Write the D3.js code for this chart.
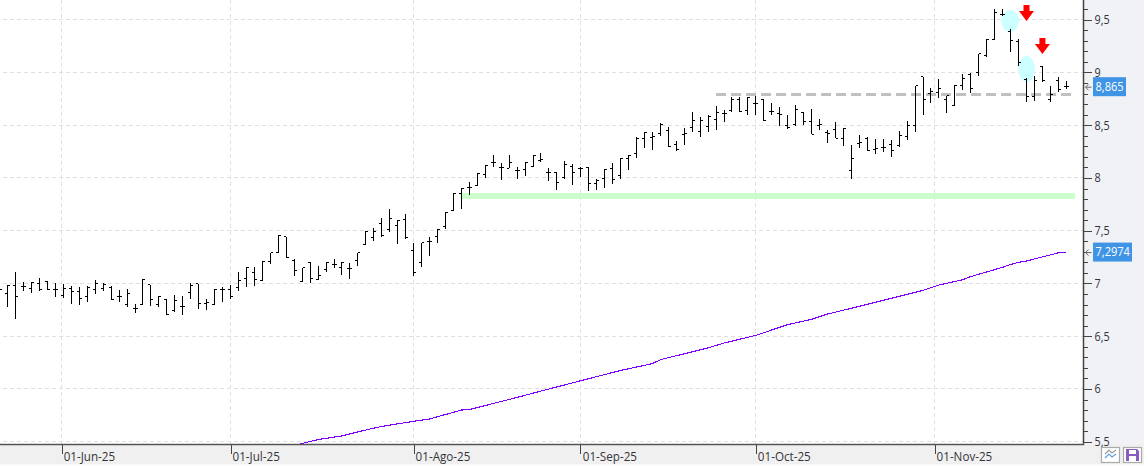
<!DOCTYPE html>
<html>
<head>
<meta charset="utf-8">
<script src="https://cdn.jsdelivr.net/npm/d3@7/dist/d3.min.js"></script>
<style>
html,body{margin:0;padding:0;background:#fff;overflow:hidden}
svg{display:block}
text{font-family:"Open Sans",sans-serif;font-size:12px}
</style>
</head>
<body>
<svg id="chart" width="1144" height="466"></svg>
<script>
// Daily open / high / low / close, one entry per session
const opens = [
6.94,6.903,6.985,6.97,6.954,7.001,7.023,6.944,6.89,6.954,
6.925,6.878,6.938,6.954,6.963,6.875,6.805,6.767,6.802,6.988,
6.799,6.849,6.739,6.786,6.916,6.995,6.808,6.802,6.944,6.944,
6.963,7.048,7.105,7.03,7.21,7.295,7.443,7.222,7.02,7.197,
7.039,7.131,7.181,7.147,7.143,7.213,7.368,7.44,7.57,7.513,
7.545,7.605,7.317,7.203,7.399,7.443,7.538,7.693,7.857,7.911,
7.933,8.028,8.151,8.097,8.094,8.072,8.082,8.107,8.17,8.05,
8.047,8.009,8.113,8.091,8.1,7.943,7.993,8.088,8.019,8.189,
8.23,8.375,8.385,8.423,8.454,8.319,8.416,8.476,8.445,8.492,
8.556,8.612,8.644,8.745,8.644,8.707,8.745,8.628,8.609,8.496,
8.502,8.619,8.537,8.499,8.432,8.461,8.375,8.072,8.331,8.372,
8.265,8.293,8.315,8.306,8.391,8.499,8.957,8.802,8.808,8.745,
8.691,8.881,8.985,9.004,9.156,9.314,9.551,9.387,9.289,8.935,
8.77,9.061,8.739,8.928,8.871];
const highs = [
6.97,6.985,7.108,7.011,7.017,7.048,7.023,7.007,6.992,6.976,
6.97,6.973,7.033,7.001,6.976,6.938,6.947,6.802,7.039,6.988,
6.881,6.849,6.887,6.881,7.001,6.995,6.853,6.944,6.963,6.982,
7.105,7.153,7.156,7.21,7.292,7.459,7.443,7.235,7.15,7.207,
7.166,7.2,7.229,7.2,7.191,7.292,7.494,7.522,7.62,7.703,
7.6,7.655,7.38,7.387,7.443,7.516,7.677,7.857,7.902,7.962,
8.044,8.123,8.218,8.139,8.218,8.107,8.148,8.214,8.233,8.097,
8.053,8.157,8.132,8.101,8.107,7.987,8.085,8.138,8.189,8.217,
8.385,8.432,8.432,8.518,8.48,8.35,8.47,8.622,8.574,8.597,
8.682,8.644,8.764,8.764,8.764,8.78,8.748,8.714,8.669,8.593,
8.691,8.628,8.65,8.562,8.454,8.527,8.473,8.312,8.404,8.391,
8.369,8.369,8.36,8.445,8.54,8.872,8.957,8.849,8.938,8.777,
8.881,8.985,8.998,9.175,9.314,9.598,9.598,9.409,9.314,8.944,
8.966,9.061,8.872,8.954,8.919];
const lows = [
6.9,6.78,6.666,6.932,6.913,6.932,6.938,6.875,6.859,6.805,
6.799,6.827,6.903,6.932,6.846,6.824,6.78,6.723,6.799,6.79,
6.774,6.704,6.733,6.704,6.853,6.761,6.752,6.793,6.827,6.849,
6.932,6.97,6.979,7.026,7.187,7.292,7.241,7.07,7.017,7.0,
7.033,7.112,7.143,7.083,7.046,7.169,7.361,7.405,7.443,7.491,
7.377,7.418,7.074,7.159,7.263,7.387,7.519,7.684,7.709,7.842,
7.927,8.003,8.107,7.981,8.091,7.993,8.022,8.101,8.148,7.974,
7.886,7.993,7.936,8.006,7.876,7.886,7.902,7.943,7.99,8.075,
8.189,8.281,8.265,8.398,8.296,8.258,8.315,8.432,8.391,8.439,
8.454,8.533,8.622,8.628,8.6,8.6,8.543,8.6,8.496,8.467,
8.496,8.499,8.413,8.454,8.328,8.375,8.306,7.993,8.281,8.259,
8.227,8.249,8.202,8.297,8.36,8.439,8.597,8.714,8.761,8.619,
8.685,8.834,8.802,8.97,9.15,9.308,9.535,9.197,9.064,8.723,
8.732,8.913,8.723,8.811,8.84];
const closes = [
6.944,6.985,6.881,6.97,7.011,6.944,6.944,6.944,6.951,6.919,
6.859,6.966,6.995,6.988,6.849,6.875,6.906,6.767,7.039,6.849,
6.878,6.707,6.84,6.78,6.982,6.811,6.821,6.944,6.944,6.875,
7.03,7.153,7.039,7.21,7.292,7.459,7.247,7.121,7.147,7.049,
7.08,7.2,7.175,7.194,7.143,7.289,7.491,7.494,7.453,7.617,
7.6,7.434,7.102,7.387,7.402,7.513,7.677,7.857,7.902,7.908,
8.041,8.116,8.142,8.101,8.145,8.072,8.148,8.211,8.173,8.05,
7.958,8.132,8.053,8.091,7.949,7.98,8.082,7.987,8.186,8.214,
8.375,8.432,8.391,8.502,8.296,8.274,8.423,8.549,8.549,8.581,
8.625,8.609,8.745,8.631,8.764,8.71,8.546,8.628,8.6,8.48,
8.65,8.537,8.413,8.508,8.423,8.375,8.47,8.186,8.334,8.262,
8.281,8.293,8.262,8.404,8.499,8.872,8.745,8.815,8.849,8.777,
8.881,8.944,8.849,9.175,9.311,9.567,9.551,9.301,9.099,8.77,
8.928,8.922,8.793,8.834,8.865];

// Long moving average: session number and level at each change of slope
const maSessions = [37,40,43,46,48,52,54,58,59,64,68,73,78,82,83,89,91,95,99,102,104,108,116,117,118,121,122,126,127,128,129,133,134];
const maValues = [5.465,5.52,5.555,5.611,5.645,5.693,5.715,5.80,5.805,5.90,5.98,6.078,6.175,6.24,6.277,6.39,6.435,6.508,6.61,6.66,6.71,6.783,6.935,6.96,6.985,7.036,7.065,7.153,7.18,7.2,7.213,7.29,7.2974];

// Axis content
const priceTicks = [5.5,6,6.5,7,7.5,8,8.5,9,9.5];
const minorTicks = [5.6,5.7,5.8,5.9,6.1,6.2,6.3,6.4,6.6,6.7,6.8,6.9,7.1,7.2,7.3,7.4,7.6,7.7,7.8,7.9,8.1,8.2,8.3,8.4,8.6,8.7,8.8,8.9,9.1,9.2,9.3,9.4,9.6];
const dateLabels = ["01-Jun-25","01-Jul-25","01-Ago-25","01-Sep-25","01-Oct-25","01-Nov-25"];
const dateSessions = [7.78,29,52,73,95,117.45];

// Drawn studies: support, resistance, highlighted zones and sell signals
const supportLevel = 7.829, supportFrom = 57.9, supportTo = 135.1;
const resistanceLevel = 8.791, resistanceFrom = 90, resistanceTo = 134.8;
const zoneSessions = [126.96,129.02];
const zonePrices = [9.488,9.033];
const signalSessions = [129,131];
const signalPrices = [9.488,9.175];
const lastPrice = 8.865, lastAverage = 7.2974;

const svg = d3.select("#chart");
const plotRight = 1083, plotBottom = 444;

const x = d3.scaleLinear().domain([0,134]).range([-0.3,1066.3]);
const y = d3.scaleLinear().domain([5.5,9.5]).range([441.7,19.7]);
const fmt = v => String(v).replace(".", ",");

// Narrows a label to the width the terminal font gives it
const narrow = (sel, f) => sel.each(function(){
  const w = this.getComputedTextLength();
  d3.select(this).attr("textLength", (w*f).toFixed(1)).attr("lengthAdjust","spacingAndGlyphs");
});

// Panels
svg.append("rect").attr("x",0).attr("y",0).attr("width",1144).attr("height",466).attr("fill","#ffffff");
svg.append("rect").attr("x",plotRight).attr("y",0).attr("width",61).attr("height",466).attr("fill","#f1f2f6");
svg.append("rect").attr("x",0).attr("y",plotBottom).attr("width",1144).attr("height",20).attr("fill","#f0f0f0");
svg.append("rect").attr("x",0).attr("y",464).attr("width",1144).attr("height",2).attr("fill","#fafafa");

svg.append("defs").append("clipPath").attr("id","plot")
  .append("rect").attr("x",0).attr("y",0).attr("width",plotRight).attr("height",plotBottom);

const plot = svg.append("g").attr("clip-path","url(#plot)");

// Grid
const gridStyle = s => s.attr("stroke","#e0e0e0").attr("stroke-width",1)
  .attr("stroke-dasharray","4 3").attr("shape-rendering","crispEdges");
plot.append("g").selectAll("line").data(priceTicks).join("line")
  .attr("x1",3).attr("x2",plotRight)
  .attr("y1",d=>Math.floor(y(d))+0.5).attr("y2",d=>Math.floor(y(d))+0.5)
  .call(gridStyle);
plot.append("g").selectAll("line").data(dateSessions).join("line")
  .attr("x1",d=>Math.floor(x(d))+0.5).attr("x2",d=>Math.floor(x(d))+0.5)
  .attr("y1",0).attr("y2",plotBottom)
  .call(gridStyle);

// Support band and resistance line
plot.append("line")
  .attr("x1",x(supportFrom)).attr("x2",x(supportTo))
  .attr("y1",y(supportLevel)).attr("y2",y(supportLevel))
  .attr("stroke","#ccffcc").attr("stroke-width",6);
plot.append("line")
  .attr("x1",x(resistanceFrom)).attr("x2",x(resistanceTo))
  .attr("y1",y(resistanceLevel)).attr("y2",y(resistanceLevel))
  .attr("stroke","#c0c0c0").attr("stroke-width",3)
  .attr("stroke-dasharray","10 5");

// Highlighted zones
const zoneRadii = [[8.7,11],[8.3,13]];
plot.append("g").selectAll("ellipse").data(zoneSessions).join("ellipse")
  .attr("cx",d=>x(d)).attr("cy",(d,i)=>y(zonePrices[i]))
  .attr("rx",(d,i)=>zoneRadii[i][0]).attr("ry",(d,i)=>zoneRadii[i][1])
  .attr("fill","#ccffff");

// Sell signals, drawn from the arrow tip upwards
plot.append("g").selectAll("path").data(signalSessions).join("path")
  .attr("transform",(d,i)=>`translate(${x(d)},${y(signalPrices[i])})`)
  .attr("d","M0,0L-7.5,-10H-3V-16H3V-10H7.5Z")
  .attr("fill","#ff0000");

// Moving average
plot.append("path")
  .datum(maSessions)
  .attr("fill","none").attr("stroke","#8000ff").attr("stroke-width",1.1)
  .attr("shape-rendering","crispEdges")
  .attr("d",d3.line().x(d=>x(d)).y((d,i)=>y(maValues[i])));

// OHLC bars
const col = i => Math.floor(x(i));
const px = i => col(i)+0.5;
const py = v => Math.floor(y(v))+0.5;
const bars = plot.append("g").attr("stroke","#000").attr("stroke-width",1).attr("shape-rendering","crispEdges");
const idx = d3.range(opens.length);
bars.selectAll("line.stem").data(idx).join("line").attr("class","stem")
  .attr("x1",px).attr("x2",px).attr("y1",i=>y(highs[i])).attr("y2",i=>y(lows[i]));
bars.selectAll("line.open").data(idx).join("line").attr("class","open")
  .attr("x1",i=>col(i)-2).attr("x2",col).attr("y1",i=>py(opens[i])).attr("y2",i=>py(opens[i]));
bars.selectAll("line.close").data(idx).join("line").attr("class","close")
  .attr("x1",i=>col(i)+1).attr("x2",i=>col(i)+3).attr("y1",i=>py(closes[i])).attr("y2",i=>py(closes[i]));

// Price axis
const yAxisMajor = d3.axisRight(y).tickValues(priceTicks).tickSize(8).tickPadding(3).tickFormat(fmt);
const gy = svg.append("g").attr("transform",`translate(${plotRight+0.5},0)`).call(yAxisMajor);
gy.select(".domain").remove();
gy.selectAll("line").attr("stroke","#444").attr("shape-rendering","crispEdges");
gy.selectAll("text").attr("fill","#33333a").style("font-size","12px").style("font-family",'"Open Sans",sans-serif').call(narrow,0.9);
const gyMinor = svg.append("g").attr("transform",`translate(${plotRight+0.5},0)`)
  .call(d3.axisRight(y).tickValues(minorTicks).tickSize(4).tickFormat(""));
gyMinor.select(".domain").remove();
gyMinor.selectAll("line").attr("stroke","#444").attr("shape-rendering","crispEdges");

// Date axis
const gx = svg.append("g").attr("transform",`translate(0,${plotBottom})`)
  .call(d3.axisBottom(x).tickValues(dateSessions).tickSize(10).tickFormat((d,i)=>dateLabels[i]));
gx.select(".domain").remove();
gx.selectAll("line").attr("stroke","#444").attr("shape-rendering","crispEdges")
  .attr("x1",d=>Math.floor(x(d))+0.5-x(d)).attr("x2",d=>Math.floor(x(d))+0.5-x(d));
gx.selectAll("text").attr("text-anchor","start").attr("x",1.5).attr("y",8).attr("dy","0.71em")
  .attr("fill","#33333a").style("font-size","12px").style("font-family",'"Open Sans",sans-serif').call(narrow,0.97);

// Axis borders
svg.append("line").attr("x1",plotRight+0.5).attr("x2",plotRight+0.5).attr("y1",0).attr("y2",plotBottom+1)
  .attr("stroke","#444").attr("stroke-width",1.5);
svg.append("line").attr("x1",0).attr("x2",plotRight+1).attr("y1",plotBottom+0.5).attr("y2",plotBottom+0.5)
  .attr("stroke","#555").attr("stroke-width",1.5);

// Value tags for the last price and the average
const tags = svg.append("g").selectAll("g").data([[lastPrice,"8,865",33],[lastAverage,"7,2974",39]]).join("g")
  .attr("transform",d=>`translate(0,${y(d[0])})`);
tags.append("path").attr("d","M1091.5,0.5H1086M1088.5,-2.5L1085.5,0.5L1088.5,3.5")
  .attr("fill","none").attr("stroke","#666").attr("stroke-width",1);
tags.append("rect").attr("x",1093).attr("y",-9.5).attr("width",d=>d[2]).attr("height",19).attr("fill","#3f94e6");
tags.append("text").attr("x",1095.5).attr("y",0).attr("dy","0.36em").attr("fill","#fff").text(d=>d[1]).call(narrow,0.92);

// Toolbar buttons
const b1 = svg.append("g").attr("transform","translate(1101,447)");
b1.append("rect").attr("x",0.5).attr("y",0.5).attr("width",18).attr("height",15).attr("fill","#fff").attr("stroke","#aaa").attr("stroke-width",1.2);
b1.append("path").attr("d","M4,7L8,3L11,6L15,3").attr("fill","none").attr("stroke","#999").attr("stroke-width",1.2);
b1.append("path").attr("d","M4,11L8,7L11,10L15,7").attr("fill","none").attr("stroke","#5aa0dc").attr("stroke-width",1.2);
const b2 = svg.append("g").attr("transform","translate(1123,447)");
b2.append("rect").attr("x",0.5).attr("y",0.5).attr("width",18).attr("height",15).attr("fill","#fff").attr("stroke","#aaa").attr("stroke-width",1.2);
b2.append("path").attr("d","M3,2H14L16,4V14H3Z").attr("fill","#8a5cc0");
b2.append("rect").attr("x",6).attr("y",3).attr("width",7).attr("height",4).attr("fill","#fff");
b2.append("rect").attr("x",6).attr("y",9).attr("width",7).attr("height",5).attr("fill","#fff");
</script>
</body>
</html>
